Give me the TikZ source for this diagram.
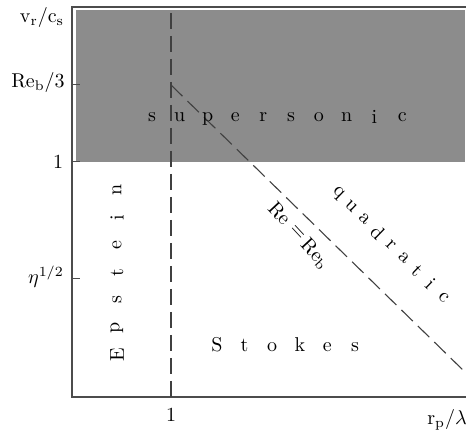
\documentclass[tikz,border=0pt]{standalone}
\begin{document}
\begin{tikzpicture}[x=1pt,y=-1pt,
  axis/.style={line width=1.3pt,draw=black!70},
  bound/.style={dash pattern=on 16pt off 7pt,line width=1.1pt,draw=black!75},
  lab/.style={scale=2.0,inner sep=0pt},
  reg/.style={scale=2.0,inner sep=0pt,anchor=center}]
\useasboundingbox (0,0) rectangle (466,435);
% shaded supersonic region
\fill[black!45] (76,10) rectangle (465,162);
% axes
\coordinate (tl) at (72,7);
\coordinate (tr) at (466,7);
\coordinate (bl) at (72,397);
\coordinate (br) at (466,397);
\draw[axis] (tr) -- (tl) -- (bl) -- (br);
% ticks
\coordinate (t1a) at (72,85);  \coordinate (t1b) at (80,85);
\coordinate (t2a) at (72,162); \coordinate (t2b) at (80,162);
\coordinate (t3a) at (72,279); \coordinate (t3b) at (80,279);
\draw[axis,line width=1pt] (t1a) -- (t1b) (t2a) -- (t2b) (t3a) -- (t3b);
% boundaries
\coordinate (vtop) at (171,13);
\coordinate (vbot) at (171,397);
\coordinate (dstart) at (171,85);
\coordinate (dend) at (466,373);
\draw[bound] (vtop) -- (vbot);
\draw[bound] (dstart) -- (dend);
% axis labels
\node[lab] (ylab) at (42,18) {$\mathrm{v_r/c_s}$};
\node[lab] (yreb) at (38,83) {$\mathrm{Re_b/3}$};
\node[lab] (yone) at (58,162) {$1$};
\node[lab] (yeta) at (46,277) {$\eta^{1/2}$};
\node[lab] (xone) at (171,415) {$1$};
\node[lab] (xlab) at (447,420) {$\mathrm{r_p/\lambda}$};
% region labels
\foreach \c [count=\i from 0] in {s,u,p,e,r,s,o,n,i,c}
  \node[reg] (sup\i) at (152+27.8*\i,119) {\c\vphantom{p}};
\foreach \c [count=\i from 0] in {E,p,s,t,e,i,n}
  \node[reg,rotate=90] (eps\i) at (117,355-27.5*\i) {\c};
\foreach \c [count=\i from 0] in {S,t,o,k,e,s}
  \node[reg] (sto\i) at (217+27.6*\i,345) {\c\vphantom{S}};
\foreach \c [count=\i from 0] in {q,u,a,d,r,a,t,i,c}
  \node[reg,rotate=-44] (qua\i) at (338+13.2*\i,193+13*\i) {\c};
% Re = Re_b along the boundary
\node[reg,rotate=-47] (re1) at (280,213) {$\mathrm{Re}$};
\node[reg,rotate=-47] (reeq) at (297,233) {$=$};
\node[reg,rotate=-47] (re2) at (315,254) {$\mathrm{Re_b}$};
\end{tikzpicture}
\end{document}
